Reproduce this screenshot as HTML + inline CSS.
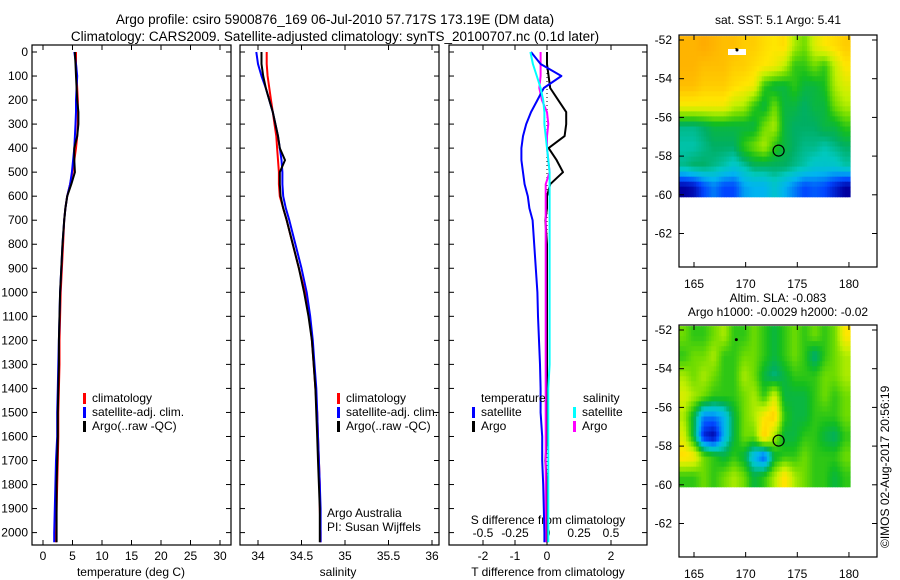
<!DOCTYPE html>
<html><head><meta charset="utf-8">
<style>
body{margin:0;background:#fff;}
svg{display:block;font-family:"Liberation Sans",sans-serif;}
</style></head><body>
<svg id="fig" width="900" height="580" viewBox="0 0 900 580" xmlns="http://www.w3.org/2000/svg">
<text x="335" y="24" font-size="13.5" text-anchor="middle">Argo profile: csiro 5900876_169 06-Jul-2010 57.717S 173.19E (DM data)</text>
<text x="335" y="41" font-size="13.5" text-anchor="middle">Climatology: CARS2009. Satellite-adjusted climatology: synTS_20100707.nc (0.1d later)</text>
<g id="plots"></g>
<text transform="translate(889,548) rotate(-90)" font-size="12">©IMOS 02-Aug-2017 20:56:19</text>
</svg>
<script>
// ---------- data ----------
const depths = [0,50,100,150,200,250,300,350,400,450,500,550,600,650,700,800,900,1000,1100,1200,1300,1400,1500,1600,1700,1800,1900,2000,2040];
const tClim  = [5.6,5.6,5.7,5.8,5.9,5.9,5.9,5.8,5.6,5.3,5.0,4.6,4.1,3.8,3.6,3.4,3.2,3.0,2.9,2.8,2.8,2.7,2.6,2.6,2.5,2.4,2.3,2.2,2.2];
const tSat   = [5.3,5.6,5.8,5.7,5.6,5.6,5.5,5.4,5.3,5.1,4.9,4.6,4.1,3.8,3.6,3.3,3.1,2.9,2.8,2.7,2.6,2.5,2.4,2.4,2.2,2.1,2.0,1.9,1.9];
const tArgo  = [5.4,5.5,5.6,5.7,5.8,6.0,6.0,5.8,5.3,5.3,5.4,4.8,4.1,3.8,3.6,3.3,3.1,2.9,2.8,2.7,2.7,2.6,2.5,2.5,2.4,2.3,2.3,2.3,2.3];
const sClim  = [34.10,34.10,34.11,34.13,34.15,34.17,34.19,34.21,34.22,34.23,34.24,34.24,34.25,34.29,34.33,34.40,34.47,34.54,34.59,34.62,34.64,34.66,34.68,34.69,34.70,34.71,34.71,34.72,34.72];
const sSat   = [33.98,34.00,34.04,34.09,34.13,34.17,34.20,34.23,34.25,34.27,34.28,34.28,34.29,34.32,34.36,34.43,34.50,34.56,34.60,34.63,34.65,34.67,34.68,34.69,34.70,34.71,34.72,34.72,34.72];
const sArgo  = [34.04,34.04,34.06,34.09,34.13,34.17,34.20,34.23,34.25,34.31,34.25,34.25,34.26,34.29,34.33,34.40,34.47,34.53,34.58,34.62,34.64,34.66,34.67,34.68,34.69,34.70,34.71,34.71,34.71];
const dTSat  = [-0.5,-0.2,0.45,-0.1,-0.3,-0.5,-0.65,-0.75,-0.8,-0.8,-0.75,-0.7,-0.6,-0.55,-0.45,-0.4,-0.35,-0.3,-0.28,-0.25,-0.22,-0.2,-0.2,-0.15,-0.15,-0.12,-0.1,-0.08,-0.08];
const dTArgo = [0.0,0.0,0.05,0.1,0.35,0.6,0.6,0.55,0.05,0.3,0.5,0.1,0.0,0.0,-0.05,0.0,0.0,0.0,0.0,0.0,0.0,0.0,0.0,0.0,-0.05,0.0,0.0,0.0,0.0];
const dSSat  = [-0.13,-0.11,-0.08,-0.05,-0.03,-0.02,-0.02,-0.01,0.0,0.01,0.02,0.02,0.02,0.02,0.02,0.02,0.02,0.02,0.02,0.02,0.02,0.01,0.01,0.01,0.01,0.01,0.01,0.01,0.01];
const dSArgo = [-0.05,-0.05,-0.05,-0.06,-0.04,0.0,0.01,0.0,0.0,0.01,0.02,-0.01,-0.01,-0.01,-0.01,-0.01,-0.01,-0.01,-0.01,-0.01,-0.01,-0.01,-0.01,-0.01,-0.01,-0.01,-0.01,-0.01,-0.01];
const depthTicks = [0,100,200,300,400,500,600,700,800,900,1000,1100,1200,1300,1400,1500,1600,1700,1800,1900,2000];
const tTicks = [0,5,10,15,20,25,30];
const sTicks = ["34","34.5","35","35.5","36"];
const dTTicks = ["-2","-1","0","2"];
const dTTickVals = [-2,-1,0,2];
const dSTicks = ["-0.5","-0.25","0","0.25","0.5"];
const lonTicks = [165,170,175,180];
const latTicks = [-52,-54,-56,-58,-60,-62];
const sstGrid = [
[.80,.80,.82,.80,.78,.78,.75,.75,.72,.70,.72,.60,.55,.65,.70,.72,.75],
[.80,.80,.78,.78,.78,.75,.75,.72,.70,.68,.62,.50,.50,.55,.50,.62,.70],
[.78,.78,.75,.75,.75,.72,.70,.68,.50,.45,.45,.50,.45,.45,.48,.60,.65],
[.68,.68,.68,.68,.68,.62,.60,.50,.45,.55,.45,.45,.42,.45,.45,.55,.60],
[.40,.40,.42,.45,.45,.45,.45,.45,.55,.60,.45,.42,.42,.42,.45,.45,.50],
[.38,.38,.40,.42,.42,.42,.50,.55,.60,.50,.45,.42,.40,.40,.38,.40,.42],
[.40,.42,.42,.40,.38,.35,.38,.42,.42,.42,.42,.40,.38,.35,.35,.35,.38],
[.10,.12,.20,.25,.20,.20,.28,.30,.30,.35,.30,.25,.20,.22,.20,.15,.10]];
const slaGrid = [
[.55,.50,.50,.55,.60,.50,.50,.55,.50,.45,.50,.55,.50,.55,.50,.55,.70],
[.50,.55,.55,.60,.50,.50,.55,.55,.50,.45,.50,.55,.50,.40,.50,.55,.60],
[.60,.55,.60,.55,.50,.50,.60,.55,.45,.40,.45,.50,.50,.50,.55,.55,.60],
[.65,.60,.55,.50,.50,.50,.55,.60,.50,.65,.45,.45,.45,.50,.55,.50,.55],
[.60,.45,.25,.25,.30,.45,.55,.60,.70,.75,.50,.45,.45,.50,.50,.50,.55],
[.65,.45,.15,.10,.30,.45,.55,.55,.75,.60,.45,.45,.50,.50,.45,.42,.50],
[.72,.70,.55,.50,.45,.50,.45,.30,.20,.45,.50,.50,.55,.50,.50,.50,.55],
[.50,.50,.55,.50,.55,.60,.55,.45,.50,.60,.72,.60,.55,.50,.50,.45,.50]];
const argoLon = 173.19, argoLat = -57.717;

// ---------- helpers ----------
const NS='http://www.w3.org/2000/svg';
const root=document.getElementById('plots');
function mk(tag,attrs,parent,text){const e=document.createElementNS(NS,tag);for(const k in attrs)e.setAttribute(k,attrs[k]);if(text!==undefined)e.textContent=text;(parent||root).appendChild(e);return e;}
const yD = d => 52 + d*0.2403;
const PTOP=45, PBOT=545;

function frame(x0,x1,name){
  const g=mk('g',{});
  
  
  mk('rect',{x:x0,y:PTOP,width:x1-x0,height:PBOT-PTOP,fill:'none',stroke:'#000','stroke-width':1.2},g);
  depthTicks.forEach(d=>{const y=yD(d);mk('line',{x1:x0,x2:x0+5,y1:y,y2:y,stroke:'#000'},g);mk('line',{x1:x1-5,x2:x1,y1:y,y2:y,stroke:'#000'},g);});
  return g;
}
function line(g,xs,fx,color,name,w){
  const pts=depths.map((d,i)=>fx(xs[i]).toFixed(1)+','+yD(d).toFixed(1)).join(' ');
  const p=mk('polyline',{points:pts,fill:'none',stroke:color,'stroke-width':w||2,'stroke-linejoin':'round'},g);
  
  
}
function xtick(g,x,label,y){mk('line',{x1:x,x2:x,y1:PBOT-5,y2:PBOT,stroke:'#000'},g);mk('line',{x1:x,x2:x,y1:PTOP,y2:PTOP+5,stroke:'#000'},g);if(label!==null)mk('text',{x:x,y:y||560,'font-size':12,'text-anchor':'middle'},g,label);}
function legend(g,x,y,items){items.forEach((it,i)=>{mk('rect',{x:x,y:y+i*14-9,width:3,height:11,fill:it[0]},g);mk('text',{x:x+9,y:y+i*14,'font-size':12},g,it[1]);});}

// ---------- panel 1 temperature ----------
const fT=v=>43+v*5.9;
const g1=frame(32,231,'temperature-panel');
depthTicks.forEach(d=>mk('text',{x:28,y:yD(d)+4,'font-size':12,'text-anchor':'end'},g1,String(d)));
tTicks.forEach(v=>xtick(g1,fT(v),String(v)));
mk('text',{x:131,y:576,'font-size':12,'text-anchor':'middle'},g1,'temperature (deg C)');
line(g1,tClim,fT,'#f00','temp-climatology-line');
line(g1,tSat,fT,'#00f','temp-satellite-line');
line(g1,tArgo,fT,'#000','temp-argo-line');
legend(g1,83,402,[['#f00','climatology'],['#00f','satellite-adj. clim.'],['#000','Argo(..raw -QC)']]);

// ---------- panel 2 salinity ----------
const fS=v=>258+(v-34)*87;
const g2=frame(240,439,'salinity-panel');
sTicks.forEach(s=>xtick(g2,fS(parseFloat(s)),s));
mk('text',{x:338,y:576,'font-size':12,'text-anchor':'middle'},g2,'salinity');
line(g2,sClim,fS,'#f00','sal-climatology-line');
line(g2,sSat,fS,'#00f','sal-satellite-line');
line(g2,sArgo,fS,'#000','sal-argo-line');
legend(g2,337,402,[['#f00','climatology'],['#00f','satellite-adj. clim.'],['#000','Argo(..raw -QC)']]);
mk('text',{x:327,y:517,'font-size':12},g2,'Argo Australia');
mk('text',{x:327,y:531,'font-size':12},g2,'PI: Susan Wijffels');

// ---------- panel 3 differences ----------
const fdT=v=>547+v*32;
const fdS=v=>547+v*128;
const g3=frame(449,647,'difference-panel');
dTTicks.forEach((s,i)=>xtick(g3,fdT(dTTickVals[i]),s));
dSTicks.forEach(s=>mk('text',{x:fdS(parseFloat(s)),y:537,'font-size':12,'text-anchor':'middle'},g3,s));
mk('text',{x:548,y:524,'font-size':12,'text-anchor':'middle'},g3,'S difference from climatology');
mk('text',{x:548,y:576,'font-size':12,'text-anchor':'middle'},g3,'T difference from climatology');
mk('line',{x1:547,x2:547,y1:PTOP,y2:PBOT,stroke:'#000','stroke-dasharray':'1,3'},g3);
line(g3,dTArgo,fdT,'#000','tdiff-argo-line');
line(g3,dSArgo,fdS,'#f0f','sdiff-argo-line');
line(g3,dTSat,fdT,'#00f','tdiff-satellite-line');
line(g3,dSSat,fdS,'#0ff','sdiff-satellite-line');
mk('text',{x:481,y:402,'font-size':12},g3,'temperature');
mk('text',{x:583,y:402,'font-size':12},g3,'salinity');
legend(g3,472,416,[['#00f','satellite'],['#000','Argo']]);
legend(g3,573,416,[['#0ff','satellite'],['#f0f','Argo']]);

// ---------- maps ----------
const cmapStops=[[0.0,[0,0,120]],[0.1,[0,0,160]],[0.2,[0,70,255]],[0.3,[0,180,240]],[0.37,[0,200,190]],[0.42,[0,175,100]],[0.48,[20,190,30]],[0.55,[110,220,0]],[0.62,[195,240,0]],[0.7,[255,230,0]],[0.8,[255,180,0]],[0.9,[255,135,0]],[1.0,[240,80,0]]];
function cmap(v){v=Math.max(0,Math.min(1,v));for(let i=1;i<cmapStops.length;i++){const a=cmapStops[i-1],b=cmapStops[i];if(v<=b[0]){const t=(v-a[0])/(b[0]-a[0]);return 'rgb('+[0,1,2].map(k=>Math.round(a[1][k]+(b[1][k]-a[1][k])*t)).join(',')+')';}}return 'rgb(240,80,0)';}
function sample(grid,r,c){const nr=grid.length,nc=grid[0].length;r=Math.max(0,Math.min(nr-1,r));c=Math.max(0,Math.min(nc-1,c));const r0=Math.floor(r),c0=Math.floor(c),r1=Math.min(nr-1,r0+1),c1=Math.min(nc-1,c0+1),fr=r-r0,fc=c-c0;return grid[r0][c0]*(1-fr)*(1-fc)+grid[r0][c1]*(1-fr)*fc+grid[r1][c0]*fr*(1-fc)+grid[r1][c1]*fr*fc;}
function map(top,grid,name,titles,titleY){
  const fx=lon=>694+(lon-165)*10.33;
  const fy=lat=>top+5+(-52-lat)*19.35;
  const g=mk('g',{});
  
  
  titles.forEach((t,i)=>mk('text',{x:778,y:titleY+i*14,'font-size':12,'text-anchor':'middle'},g,t));
  const lon0=163.5, lat0=-51.8, nr=grid.length, nc=grid[0].length;
  const dLon=(180.1-lon0)/nc, dLat=(60.1-51.8)/nr;
  const sub=4;
  for(let r=0;r<nr*sub;r++)for(let c=0;c<nc*sub;c++){
    const v=sample(grid,(r+0.5)/sub-0.5,(c+0.5)/sub-0.5);
    const x=fx(lon0+c*dLon/sub), y=fy(lat0-r*dLat/sub);
    const cell=mk('rect',{x:x.toFixed(1),y:y.toFixed(1),width:(dLon/sub*10.33+0.6).toFixed(1),height:(dLat/sub*19.35+0.6).toFixed(1),fill:cmap(v)},g);
    
    
  }
  mk('rect',{x:679,y:top,width:198,height:232,fill:'none',stroke:'#000','stroke-width':1.2},g);
  lonTicks.forEach(l=>{const x=fx(l);mk('line',{x1:x,x2:x,y1:top,y2:top+5,stroke:'#000'},g);mk('line',{x1:x,x2:x,y1:top+227,y2:top+232,stroke:'#000'},g);mk('text',{x:x,y:top+253,'font-size':12,'text-anchor':'middle'},g,String(l));});
  latTicks.forEach(l=>{const y=fy(l);mk('line',{x1:679,x2:684,y1:y,y2:y,stroke:'#000'},g);mk('line',{x1:872,x2:877,y1:y,y2:y,stroke:'#000'},g);mk('text',{x:672,y:y+4,'font-size':12,'text-anchor':'end'},g,String(l));});
  mk('circle',{cx:fx(169.1),cy:fy(-52.5),r:1.5,fill:'#000'},g);
  const c=mk('circle',{cx:fx(argoLon),cy:fy(argoLat),r:5.5,fill:'none',stroke:'#000','stroke-width':1.2},g);
  
  
  return g;
}
const gm1=map(35,sstGrid,'sst-map',['sat. SST: 5.1 Argo: 5.41'],24);
mk('rect',{x:728,y:49,width:18,height:6,fill:'#fff'},gm1);
mk('circle',{cx:737,cy:50,r:1.5,fill:'#000'},gm1);
map(325,slaGrid,'sla-map',['Altim. SLA: -0.083','Argo h1000: -0.0029 h2000: -0.02'],302);
</script>
</body></html>
